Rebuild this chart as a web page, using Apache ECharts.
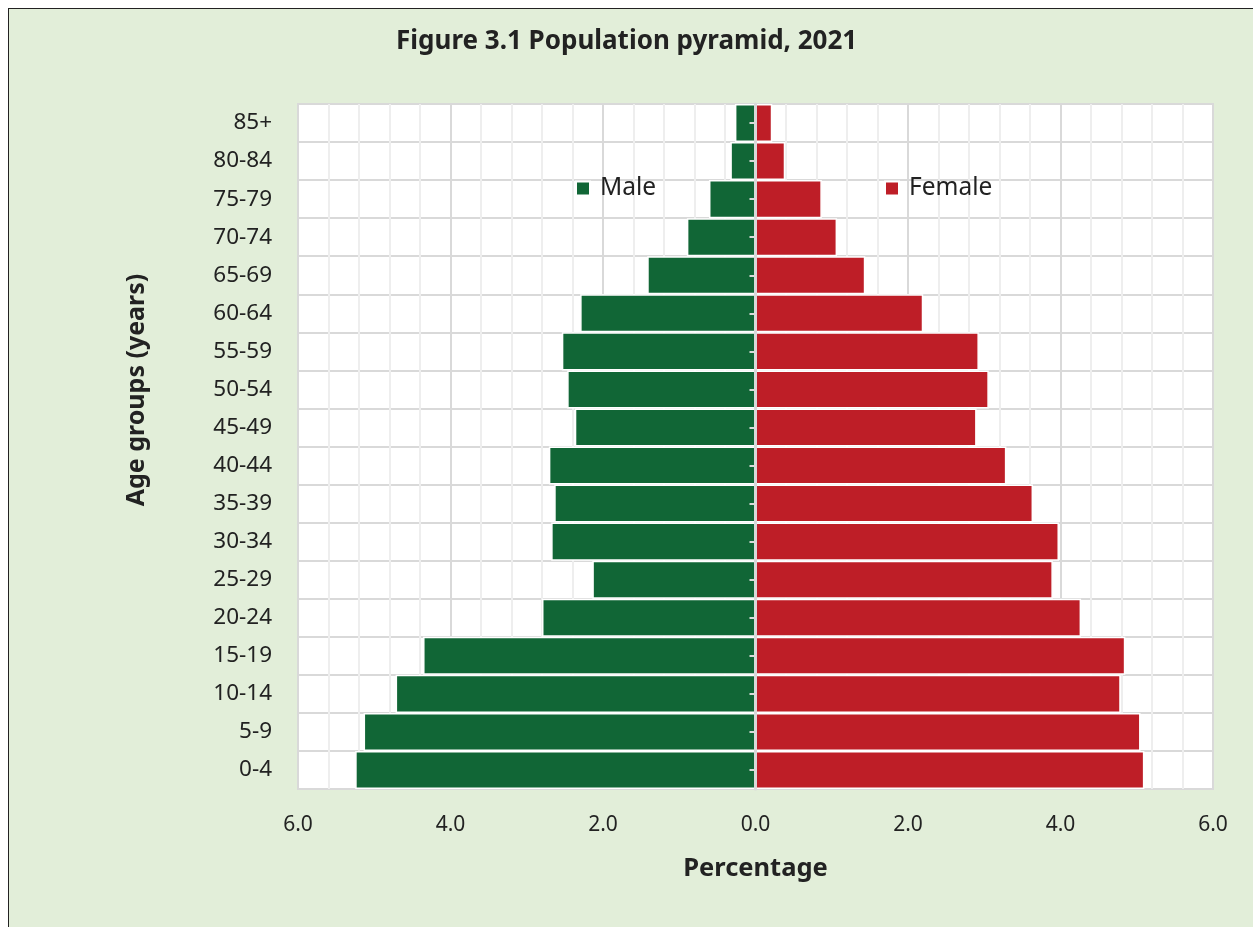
<!DOCTYPE html>
<html>
<head>
<meta charset="utf-8">
<script src="https://cdn.jsdelivr.net/npm/echarts@6/dist/echarts.min.js"></script>
<style>
html,body{margin:0;padding:0;width:1253px;height:927px;background:#fff;overflow:hidden;}
#frame{position:absolute;left:8px;top:8px;width:1245px;height:919px;background:#E2EED9;border-left:1.5px solid #222;border-top:1.5px solid #222;box-sizing:border-box;}
#chart{position:absolute;left:0;top:0;width:1253px;height:927px;}
</style>
</head>
<body>
<div id="frame"></div>
<div id="chart"></div>
<script>
const categories = ['0-4','5-9','10-14','15-19','20-24','25-29','30-34','35-39','40-44','45-49','50-54','55-59','60-64','65-69','70-74','75-79','80-84','85+'];
const maleValues = [5.25, 5.14, 4.72, 4.36, 2.80, 2.14, 2.68, 2.64, 2.71, 2.37, 2.47, 2.54, 2.30, 1.42, 0.90, 0.61, 0.33, 0.27];
const femaleValues = [5.10, 5.05, 4.79, 4.85, 4.27, 3.90, 3.98, 3.64, 3.29, 2.90, 3.06, 2.93, 2.20, 1.44, 1.07, 0.87, 0.39, 0.22];
const titleText = 'Figure 3.1 Population pyramid, 2021';
const xAxisName = 'Percentage';
const yAxisName = 'Age groups (years)';

const FONT = 'Noto Sans';
const chart = echarts.init(document.getElementById('chart'), null, {renderer:'canvas'});
chart.setOption({
  backgroundColor: 'transparent',
  animation: false,
  textStyle: {fontFamily: FONT},
  title: {
    text: titleText, left: 391, top: 24,
    textStyle: {fontFamily: FONT, fontWeight: 'bold', fontSize: 26, color: '#222'}
  },
  legend: [
    {data: ['Male'], left: 570, top: 171, icon: 'rect', itemWidth: 14, itemHeight: 14, itemGap: 8,
     textStyle: {fontFamily: FONT, fontSize: 24.5, color: '#222', padding: [0,0,0,5]}},
    {data: ['Female'], left: 879, top: 171, icon: 'rect', itemWidth: 14, itemHeight: 14, itemGap: 8,
     textStyle: {fontFamily: FONT, fontSize: 24.5, color: '#222', padding: [0,0,0,5]}}
  ],
  grid: {
    left: 298, right: 40, top: 104, bottom: 138,
    show: true, backgroundColor: '#fff', borderColor: '#d9d9d9', borderWidth: 2
  },
  xAxis: {
    type: 'value', min: -6, max: 6, interval: 2,
    name: xAxisName, nameLocation: 'middle', nameGap: 67,
    nameTextStyle: {fontFamily: FONT, fontWeight: 'bold', fontSize: 25.5, color: '#222'},
    axisLine: {show: false}, axisTick: {show: false},
    axisLabel: {margin: 26, fontSize: 21, color: '#222', fontFamily: FONT,
      formatter: v => Math.abs(v).toFixed(1)},
    splitLine: {show: true, lineStyle: {color: '#d9d9d9', width: 2}},
    minorTick: {show: false, splitNumber: 5},
    minorSplitLine: {show: true, lineStyle: {color: '#eeeeee', width: 2}}
  },
  yAxis: [
    {
      type: 'category', data: categories, position: 'left',
      axisLine: {show: false, onZero: false}, axisTick: {show: false},
      axisLabel: {margin: 26, fontSize: 22.5, color: '#222', fontFamily: FONT},
      splitLine: {show: true, lineStyle: {color: '#d9d9d9', width: 2}}
    },
    {
      type: 'category', data: categories, position: 'left', z: 5,
      axisLine: {show: true, onZero: true, lineStyle: {color: '#d9d9d9', width: 3}},
      axisTick: {show: true, alignWithLabel: true, length: 6, lineStyle: {color: '#d9d9d9', width: 2}},
      axisLabel: {show: false},
      splitLine: {show: false}
    }
  ],
  graphic: [{
    type: 'text', x: 137, y: 390, rotation: Math.PI / 2,
    style: {text: yAxisName, fontFamily: FONT, fontWeight: 'bold', fontSize: 25, fill: '#222',
      textAlign: 'center', textVerticalAlign: 'middle'}
  }],
  series: [
    {
      name: 'Male', type: 'bar', stack: 'pop', yAxisIndex: 0,
      barCategoryGap: 0,
      data: maleValues.map(v => -v),
      itemStyle: {color: '#116636', borderColor: '#fff', borderWidth: 1.5}
    },
    {
      name: 'Female', type: 'bar', stack: 'pop', yAxisIndex: 0,
      barCategoryGap: 0,
      data: femaleValues,
      itemStyle: {color: '#BE1E27', borderColor: '#fff', borderWidth: 1.5}
    }
  ]
});
</script>
</body>
</html>
